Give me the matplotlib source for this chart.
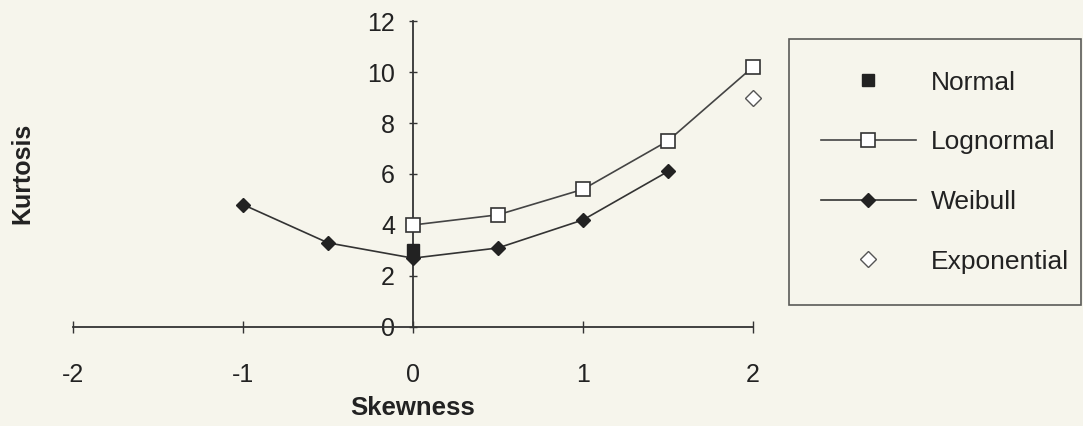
import numpy as np
import matplotlib
matplotlib.use('Agg')
import matplotlib.pyplot as plt

plt.rcParams['font.family'] = ['Liberation Sans', 'DejaVu Sans']

# values
normal_x = [0]
normal_y = [3.0]
lognormal_x = [0, 0.5, 1, 1.5, 2]
lognormal_y = [4.0, 4.4, 5.4, 7.3, 10.2]
weibull_x = [-1, -0.5, 0, 0.5, 1, 1.5]
weibull_y = [4.8, 3.3, 2.7, 3.1, 4.2, 6.1]
expo_x = [2]
expo_y = [9.0]

xticks = [-2, -1, 0, 1, 2]
yticks = [0, 2, 4, 6, 8, 10, 12]

bg = '#f6f5ec'
ink = '#222222'

fig = plt.figure(figsize=(10.83, 4.26), dpi=100, facecolor=bg)
ax = fig.add_axes([0.0674, 0.2324, 0.6279, 0.7183])
ax.set_facecolor(bg)

ax.plot(lognormal_x, lognormal_y, color='#444444', lw=1.2, marker='s', ms=10,
        mfc='white', mec='#333333', mew=1.2, label='Lognormal', zorder=3,
        clip_on=False)
ax.plot(weibull_x, weibull_y, color='#333333', lw=1.2, marker='D', ms=7,
        mfc=ink, mec=ink, label='Weibull', zorder=3, clip_on=False)
ax.plot(normal_x, normal_y, ls='none', marker='s', ms=9, mfc=ink, mec=ink,
        label='Normal', zorder=4, clip_on=False)
ax.plot(expo_x, expo_y, ls='none', marker='D', ms=8, mfc='white', mec='#555555',
        mew=1.0, label='Exponential', zorder=3, clip_on=False)

ax.set_xlim(-2, 2)
ax.set_ylim(0, 12)
ax.spines['left'].set_position(('data', 0))
ax.spines['bottom'].set_position(('data', 0))
ax.spines['right'].set_visible(False)
ax.spines['top'].set_visible(False)
for s in ('left', 'bottom'):
    ax.spines[s].set_color('#333333')
    ax.spines[s].set_linewidth(1.3)

ax.set_xticks(xticks)
ax.set_yticks(yticks)
ax.set_xticklabels([str(v) for v in xticks])
ax.set_yticklabels([str(v) for v in yticks])
ax.tick_params(axis='x', direction='inout', length=8, width=1.0, colors='#333333',
               pad=22, labelsize=18, labelcolor=ink)
ax.tick_params(axis='y', direction='inout', length=6, width=1.0, colors='#333333',
               pad=10, labelsize=18, labelcolor=ink)

fig.text(0.381, 0.042, 'Skewness', ha='center', va='center', fontsize=18.5,
         fontweight='bold', color=ink)
fig.text(0.021, 0.594, 'Kurtosis', ha='center', va='center', fontsize=18,
         fontweight='bold', color=ink, rotation=90)

h, l = ax.get_legend_handles_labels()
order = [2, 0, 1, 3]
leg = fig.legend([h[i] for i in order], [l[i] for i in order],
                 loc='upper left', bbox_to_anchor=(0.7285, 0.9085, 0.2695, 0.0),
                 mode='expand', fontsize=19, frameon=True, fancybox=False,
                 edgecolor='#333333', facecolor=bg, handlelength=3.6,
                 handletextpad=0.57, labelspacing=1.35, borderpad=1.2,
                 borderaxespad=0.0)
leg.get_frame().set_linewidth(1.2)
for t in leg.get_texts():
    t.set_color(ink)

fig.savefig('out.png', dpi=100, facecolor=bg)
